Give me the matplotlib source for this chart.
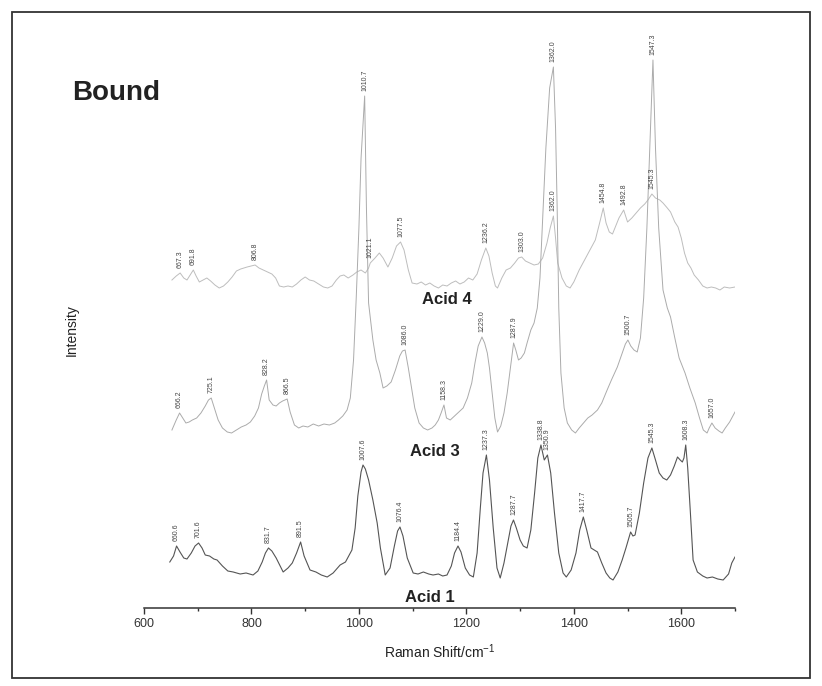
import numpy as np
import matplotlib
matplotlib.use("Agg")
import matplotlib.pyplot as plt
from matplotlib.patches import Rectangle

plt.rcParams['font.family'] = ['Liberation Sans', 'DejaVu Sans']
plt.rcParams['mathtext.fontset'] = 'custom'
plt.rcParams['mathtext.rm'] = 'Liberation Sans'
plt.rcParams['mathtext.default'] = 'regular'

# Raman spectra (shift in cm-1, intensity in arbitrary offset units)
acid1 = [
    (648, 46), (655, 52), (660.6, 62), (667, 56), (674, 50), (680, 49), (688, 55), (695, 62),
    (701.6, 65), (708, 60), (714, 53), (722, 52), (730, 49), (736, 48), (746, 42), (756, 37),
    (766, 36), (779, 34), (790, 35), (803, 33), (812, 37), (820, 46), (826, 55), (831.7, 60),
    (838, 57), (846, 50), (859, 36), (868, 40), (876, 45), (884, 55), (891.5, 66), (898, 52),
    (909, 38), (920, 36), (930, 33), (941, 31), (952, 35), (965, 43), (975, 46), (987, 58),
    (993, 80), (998, 112), (1004, 136), (1007.6, 143), (1012, 139), (1018, 128), (1026, 108),
    (1034, 85), (1040, 60), (1049, 33), (1058, 40), (1066, 62), (1072, 77), (1076.4, 81),
    (1082, 72), (1090, 50), (1101, 35), (1110, 34), (1120, 36), (1130, 34), (1138, 33),
    (1148, 34), (1156, 32), (1164, 33), (1172, 42), (1178, 55), (1184.4, 62), (1190, 56),
    (1198, 40), (1206, 33), (1213, 31), (1220, 55), (1226, 100), (1231, 135), (1237.3, 153),
    (1243, 128), (1250, 80), (1257, 40), (1263, 30), (1270, 45), (1277, 65), (1283, 82),
    (1287.7, 88), (1293, 80), (1300, 68), (1306, 62), (1313, 60), (1320, 78), (1327, 115),
    (1333, 150), (1338.8, 163), (1345, 148), (1350.9, 153), (1357, 135), (1364, 95), (1372, 55),
    (1380, 35), (1386, 31), (1395, 38), (1404, 55), (1411, 78), (1417.7, 91), (1424, 78),
    (1432, 60), (1438, 58), (1444, 56), (1452, 45), (1460, 35), (1467, 30), (1473, 28),
    (1482, 36), (1490, 48), (1497, 60), (1505.7, 76), (1510, 72), (1514, 73), (1522, 95),
    (1530, 125), (1538, 150), (1545.3, 160), (1552, 148), (1559, 135), (1566, 130), (1573, 128),
    (1580, 133), (1587, 142), (1593, 151), (1598, 148), (1602, 146), (1605, 150), (1608.3, 163),
    (1612, 140), (1617, 95), (1622, 48), (1630, 36), (1640, 32), (1648, 30), (1658, 31),
    (1668, 29), (1678, 28), (1688, 34), (1694, 45), (1700, 51),
]

acid3 = [
    (652, 178), (660, 188), (666.2, 195), (672, 190), (678, 185), (684, 186), (690, 188),
    (698, 190), (706, 195), (714, 202), (720, 208), (725.1, 210), (731, 200), (738, 188),
    (746, 180), (755, 176), (763, 175), (772, 178), (781, 181), (790, 183), (798, 186),
    (806, 192), (813, 200), (819, 214), (824, 222), (828.2, 228), (833, 208), (840, 203),
    (846, 202), (852, 205), (858, 207), (866.5, 209), (872, 196), (880, 183), (888, 180),
    (896, 182), (905, 181), (915, 184), (925, 182), (935, 184), (945, 183), (955, 185),
    (962, 188), (970, 192), (978, 198), (984, 210), (990, 248), (995, 310), (1000, 380),
    (1004, 450), (1010.7, 512), (1014, 400), (1018, 305), (1026, 268), (1032, 248),
    (1039, 235), (1045, 220), (1052, 222), (1060, 226), (1068, 238), (1076, 252), (1081, 257),
    (1086.0, 258), (1092, 240), (1098, 220), (1104, 200), (1112, 185), (1120, 180), (1128, 178),
    (1136, 180), (1142, 183), (1148, 188), (1153, 195), (1158.3, 203), (1163, 190), (1170, 188),
    (1178, 192), (1186, 196), (1194, 200), (1202, 210), (1210, 225), (1216, 245), (1222, 262),
    (1229.0, 271), (1234, 265), (1239, 255), (1243, 240), (1248, 215), (1253, 190), (1258, 176),
    (1264, 182), (1270, 195), (1276, 215), (1282, 240), (1287.9, 265), (1292, 258), (1297, 248),
    (1302, 250), (1308, 255), (1313, 265), (1320, 278), (1326, 285), (1332, 300), (1337, 330),
    (1342, 390), (1348, 460), (1355, 520), (1362.0, 541), (1366, 480), (1369, 400), (1372, 300),
    (1376, 235), (1382, 200), (1388, 185), (1396, 178), (1403, 175), (1410, 180), (1418, 185),
    (1426, 190), (1434, 193), (1444, 198), (1452, 205), (1462, 218), (1470, 228), (1481, 241),
    (1490, 255), (1496, 264), (1500.7, 268), (1506, 262), (1512, 258), (1518, 256), (1524, 270),
    (1530, 310), (1536, 380), (1542, 470), (1547.3, 548), (1552, 460), (1558, 380), (1566, 318),
    (1574, 300), (1580, 291), (1588, 270), (1596, 250), (1607, 235), (1616, 220), (1626, 205),
    (1634, 190), (1641, 178), (1648, 175), (1652, 180), (1657.0, 185), (1663, 180), (1670, 177),
    (1676, 175), (1682, 180), (1690, 186), (1697, 193), (1700, 196),
]

acid4 = [
    (652, 328), (660, 332), (667.3, 335), (674, 330), (680, 328), (686, 333), (691.8, 338),
    (697, 332), (703, 326), (710, 328), (717, 330), (724, 327), (732, 323), (740, 320),
    (748, 322), (756, 326), (764, 331), (772, 337), (780, 339), (786, 340), (792, 341),
    (799, 342), (806.8, 343), (814, 340), (822, 338), (830, 336), (838, 334), (845, 330),
    (852, 322), (860, 321), (868, 322), (876, 321), (884, 324), (892, 328), (900, 331),
    (908, 328), (916, 327), (925, 324), (934, 321), (942, 320), (950, 322), (958, 328),
    (965, 332), (972, 333), (980, 330), (989, 333), (996, 336), (1004, 338), (1012, 335),
    (1018, 340), (1021.1, 345), (1030, 350), (1038, 355), (1045, 350), (1054, 341), (1062, 350),
    (1070, 362), (1077.5, 366), (1084, 358), (1092, 338), (1099, 325), (1108, 324), (1116, 326),
    (1124, 323), (1132, 325), (1140, 322), (1148, 320), (1156, 323), (1164, 322), (1172, 325),
    (1180, 327), (1188, 324), (1196, 326), (1204, 330), (1212, 328), (1220, 334), (1228, 348),
    (1236.2, 360), (1242, 352), (1248, 335), (1254, 322), (1258, 320), (1266, 330), (1274, 338),
    (1282, 340), (1290, 345), (1297, 350), (1303.0, 351), (1310, 347), (1318, 345), (1326, 343),
    (1334, 344), (1342, 350), (1350, 365), (1356, 380), (1362.0, 392), (1366, 370), (1370, 345),
    (1378, 330), (1386, 322), (1393, 320), (1400, 326), (1410, 338), (1420, 348), (1430, 358),
    (1440, 368), (1448, 385), (1454.8, 400), (1460, 385), (1466, 376), (1472, 374), (1478, 382),
    (1484, 390), (1492.8, 398), (1500, 386), (1508, 390), (1516, 395), (1524, 400), (1532, 404),
    (1538, 408), (1545.3, 414), (1552, 410), (1560, 408), (1566, 405), (1574, 400), (1580, 396),
    (1588, 386), (1594, 381), (1600, 370), (1606, 355), (1612, 345), (1618, 340), (1624, 333),
    (1632, 328), (1640, 322), (1648, 320), (1656, 321), (1664, 320), (1672, 318), (1680, 321),
    (1690, 320), (1700, 321),
]

# peak positions that get a value label
peaks1 = [660.6, 701.6, 831.7, 891.5, 1007.6, 1076.4, 1184.4, 1237.3, 1287.7,
          1338.8, 1350.9, 1417.7, 1505.7, 1545.3, 1608.3]
peaks3 = [666.2, 725.1, 828.2, 866.5, 1010.7, 1086.0, 1158.3, 1229.0, 1287.9,
          1362.0, 1500.7, 1547.3, 1657.0]
peaks4 = [667.3, 691.8, 806.8, 1021.1, 1077.5, 1236.2, 1303.0, 1362.0,
          1454.8, 1492.8, 1545.3]

names = ['Acid 1', 'Acid 3', 'Acid 4']
name_pos = [(1133, 10), (1142, 156), (1164, 309)]
xticks = [600, 800, 1000, 1200, 1400, 1600]

fig = plt.figure(figsize=(8.22, 6.86), dpi=100)
ax = fig.add_axes([144 / 822, 78 / 686, 591 / 822, 593 / 686])

series = [(acid4, peaks4, '#bdbdbd', 0.7),
          (acid3, peaks3, '#ababab', 0.7),
          (acid1, peaks1, '#555555', 0.8)]

for data, peaks, col, lw in series:
    d = np.array(data)
    ax.plot(d[:, 0], d[:, 1], color=col, lw=lw)
    for p in peaks:
        h = d[np.argmin(np.abs(d[:, 0] - p)), 1]
        ax.text(p, h + 5, '%.1f' % p, rotation=90, ha='center', va='bottom',
                fontsize=5, color='#444444')

for name, (nx, ny) in zip(names, name_pos):
    ax.text(nx, ny, name, fontsize=12, fontweight='bold', ha='center', va='center',
            color='#222222')

ax.set_xlim(600, 1700)
ax.set_ylim(0, 593)
ax.set_xticks(xticks)
ax.set_xticks(np.arange(700, 1701, 200), minor=True)
ax.set_yticks([])
for s in ['top', 'right', 'left']:
    ax.spines[s].set_visible(False)
ax.spines['bottom'].set_linewidth(1.1)
ax.spines['bottom'].set_color('#333333')
ax.tick_params(axis='x', which='major', length=4, width=1, direction='out',
               labelsize=9, pad=3, colors='#333333')
ax.tick_params(axis='x', which='minor', length=2.5, width=1, direction='out',
               colors='#333333')

fig.text(440 / 822, 1 - 652 / 686, 'Raman Shift/cm$^{-1}$', ha='center', va='center',
         fontsize=10, color='#222222')
fig.text(72 / 822, 1 - 330 / 686, 'Intensity', rotation=90, ha='center', va='center',
         fontsize=10, color='#222222')
fig.text(72 / 822, 1 - 93 / 686, 'Bound', ha='left', va='center', fontsize=20,
         fontweight='bold', color='#222222')

# frame around the whole panel
fig.patches.append(Rectangle((12 / 822, 8 / 686), 798 / 822, 666 / 686,
                             transform=fig.transFigure, fill=False,
                             edgecolor='#333333', lw=1.3))

fig.savefig('out.png', dpi=100)
